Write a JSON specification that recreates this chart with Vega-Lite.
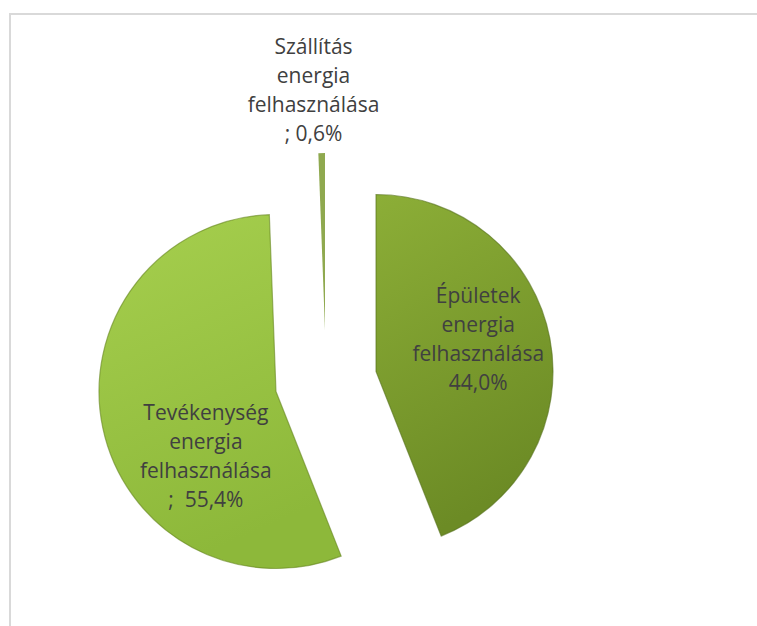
{
  "$schema": "https://vega.github.io/schema/vega-lite/v6.json",
  "width": 749,
  "height": 614,
  "autosize": {"type": "none"},
  "padding": {"left": 10, "top": 14, "right": -2, "bottom": -2},
  "background": "white",
  "view": {"stroke": "#d9d9d9", "strokeWidth": 2, "fill": "white"},
  "data": {
    "values": [
      {"category": "Épületek", "value": 44.0, "label": "Épületek\nenergia\nfelhasználása\n44,0%"},
      {"category": "Tevékenység", "value": 55.4, "label": "Tevékenység\nenergia\nfelhasználása\n; \u00a055,4%"},
      {"category": "Szállítás", "value": 0.6, "label": "Szállítás\nenergia\nfelhasználása\n; 0,6%"}
    ]
  },
  "encoding": {
    "theta": {"field": "value", "type": "quantitative", "stack": true, "scale": {"domain": [0, 100]}},
    "order": {"field": "category", "sort": "descending"}
  },
  "layer": [
    {
      "mark": {"type": "arc", "x": 316, "y": 367, "radius": 177, "xOffset": 50, "yOffset": -9.5,
        "stroke": "#556f1a", "strokeWidth": 1.2,
        "fill": {"gradient": "linear", "x1": 0, "y1": 0, "x2": 0.3, "y2": 1,
          "stops": [{"offset": 0, "color": "#8cae37"}, {"offset": 1, "color": "#6c8b25"}]}},
      "encoding": {
        "fillOpacity": {"condition": {"test": "datum.category === 'Épületek'", "value": 1}, "value": 0},
        "strokeOpacity": {"condition": {"test": "datum.category === 'Épületek'", "value": 0.6}, "value": 0}
      }
    },
    {
      "mark": {"type": "arc", "x": 316, "y": 367, "radius": 177, "xOffset": -50, "yOffset": 10.5,
        "stroke": "#65851f", "strokeWidth": 1.2,
        "fill": {"gradient": "linear", "x1": 0, "y1": 0, "x2": 0.3, "y2": 1,
          "stops": [{"offset": 0, "color": "#a6cf4e"}, {"offset": 1, "color": "#8db83a"}]}},
      "encoding": {
        "fillOpacity": {"condition": {"test": "datum.category === 'Tevékenység'", "value": 1}, "value": 0},
        "strokeOpacity": {"condition": {"test": "datum.category === 'Tevékenység'", "value": 0.6}, "value": 0}
      }
    },
    {
      "mark": {"type": "arc", "x": 316, "y": 367, "radius": 177, "xOffset": -1, "yOffset": -51,
        "fill": "#8fa94f"},
      "encoding": {
        "fillOpacity": {"condition": {"test": "datum.category === 'Szállítás'", "value": 1}, "value": 0}
      }
    },
    {
      "mark": {"type": "text", "x": 316, "y": 367, "radius": 155, "dy": -54.5,
        "lineBreak": "\n", "lineHeight": 29, "font": "Open Sans", "fontSize": 21,
        "color": "#404040", "align": "center", "baseline": "middle"},
      "encoding": {
        "text": {"field": "label", "type": "nominal"},
        "opacity": {"condition": {"test": "datum.category === 'Épületek'", "value": 1}, "value": 0}
      }
    },
    {
      "mark": {"type": "text", "x": 316, "y": 367, "radius": 133, "dx": 10, "dy": 5.5,
        "lineBreak": "\n", "lineHeight": 29, "font": "Open Sans", "fontSize": 21,
        "color": "#404040", "align": "center", "baseline": "middle"},
      "encoding": {
        "text": {"field": "label", "type": "nominal"},
        "opacity": {"condition": {"test": "datum.category === 'Tevékenység'", "value": 1}, "value": 0}
      }
    },
    {
      "mark": {"type": "text", "x": 316, "y": 367, "radius": 290, "dx": -7, "dy": -43.5,
        "lineBreak": "\n", "lineHeight": 29, "font": "Open Sans", "fontSize": 21,
        "color": "#404040", "align": "center", "baseline": "middle"},
      "encoding": {
        "text": {"field": "label", "type": "nominal"},
        "opacity": {"condition": {"test": "datum.category === 'Szállítás'", "value": 1}, "value": 0}
      }
    }
  ]
}
